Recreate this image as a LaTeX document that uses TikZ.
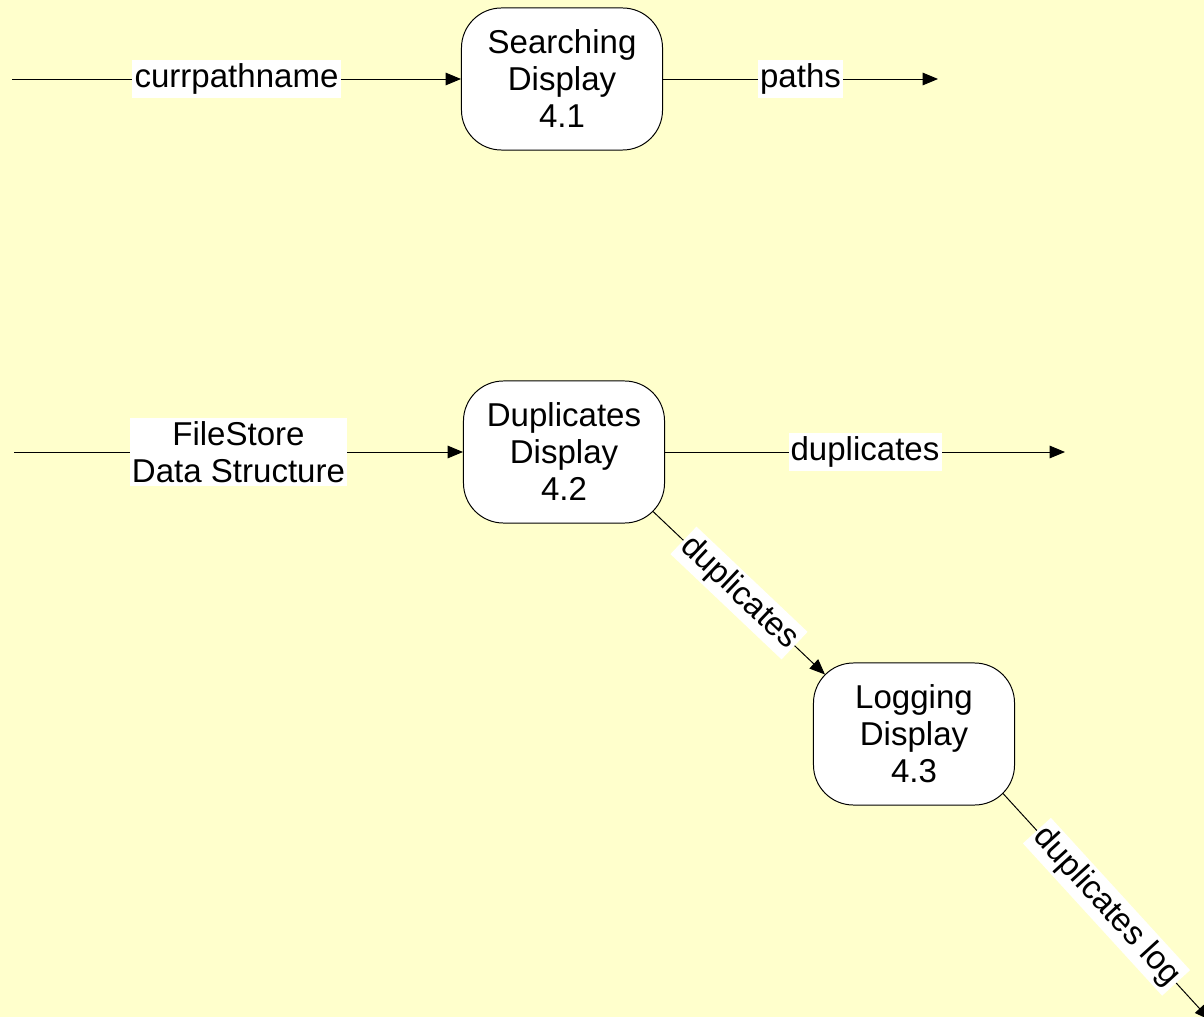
\documentclass[tikz,border=0pt]{standalone}
\usepackage{fontspec}
\setmainfont{Liberation Sans}
\usetikzlibrary{arrows.meta}
\definecolor{bgyellow}{RGB}{255,255,204}

\begin{document}
\begin{tikzpicture}[x=0.025cm,y=-0.025cm,line width=0.7pt,
    >={Triangle[length=11pt,width=9pt]},
    process/.style={draw,fill=white,rounded corners=1cm,minimum width=5.025cm,minimum height=3.55cm,inner sep=0pt,align=center,font=\fontsize{23.5}{26.3}\selectfont},
    flow/.style={fill=white,inner xsep=1.5pt,inner ysep=2.5pt,align=center,font=\fontsize{23.5}{26.3}\selectfont}]
    \fill[bgyellow] (0,0) rectangle (1204,1017);
    \useasboundingbox (0,0) rectangle (1204,1017);

    \draw (562,79) node [process] (search) {Searching\\Display\\4.1} ;
    \draw (564,452) node [process] (dup) {Duplicates\\Display\\4.2} ;
    \draw (914,734) node [process] (log) {Logging\\Display\\4.3} ;

    \coordinate (in1) at (12,79);
    \coordinate (out1) at (938,79);
    \coordinate (in2) at (14,452);
    \coordinate (out2) at (1065,452);
    \coordinate (out3) at (1210,1020);

    \draw[->] (in1) -- node[flow] {currpathname} (search);
    \draw[->] (search) -- node[flow] {paths} (out1);

    \draw[->] (in2) -- node[flow] {FileStore\\Data Structure} (dup);
    \draw[->] (dup) -- node[flow] {duplicates} (out2);

    \draw[->] ([shift={(-12,-12)}]dup.south east) -- node[flow,sloped] {duplicates} ([shift={(12,12)}]log.north west);
    \draw[->] ([shift={(-12,-12)}]log.south east) -- node[flow,sloped] {duplicates log} (out3);
\end{tikzpicture}
\end{document}
